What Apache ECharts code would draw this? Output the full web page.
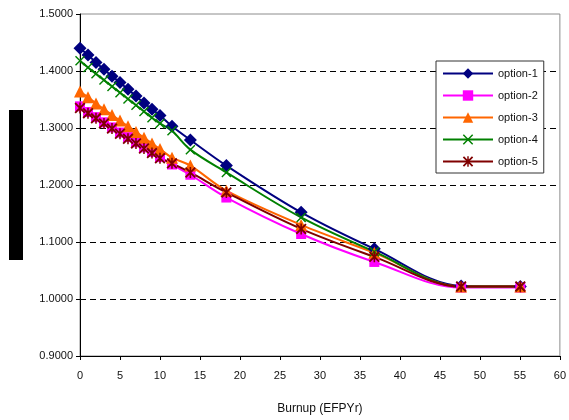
<!DOCTYPE html>
<html>
<head>
<meta charset="utf-8">
<script src="https://cdn.jsdelivr.net/npm/echarts@6/dist/echarts.min.js"></script>
<style>
  html, body { margin: 0; padding: 0; background: #fff; }
  #main { width: 569px; height: 420px; }
</style>
</head>
<body>
<div id="main"></div>
<script type="text/javascript">
// burnup points (EFPYr)
var burnup = [0, 1, 2, 3, 4, 5, 6, 7, 8, 9, 10, 11.5, 13.8, 18.3, 27.65, 36.8, 47.65, 55.05];
var option1 = [1.440, 1.428, 1.415, 1.403, 1.391, 1.380, 1.368, 1.356, 1.344, 1.333, 1.322, 1.303, 1.279, 1.234, 1.152, 1.088, 1.023, 1.022];
var option2 = [1.338, 1.328, 1.319, 1.310, 1.301, 1.292, 1.284, 1.275, 1.266, 1.258, 1.249, 1.236, 1.218, 1.178, 1.114, 1.065, 1.020, 1.020];
var option3 = [1.364, 1.354, 1.343, 1.333, 1.323, 1.313, 1.303, 1.293, 1.283, 1.273, 1.263, 1.248, 1.234, 1.190, 1.130, 1.081, 1.022, 1.022];
var option4 = [1.418, 1.406, 1.395, 1.384, 1.373, 1.362, 1.351, 1.340, 1.329, 1.318, 1.308, 1.295, 1.262, 1.222, 1.143, 1.083, 1.022, 1.022];
var option5 = [1.335, 1.326, 1.317, 1.308, 1.299, 1.290, 1.281, 1.273, 1.264, 1.256, 1.247, 1.238, 1.222, 1.187, 1.123, 1.074, 1.022, 1.022];
var names = ['option-1', 'option-2', 'option-3', 'option-4', 'option-5'];

function pairs(ys) {
  var out = [];
  for (var i = 0; i < burnup.length; i++) out.push([burnup[i], ys[i]]);
  return out;
}

// x and asterisk shapes as filled polygons
var xMark = 'path://M0,1L1,0L10,9L9,10Z M9,0L10,1L1,10L0,9Z';
var starMark = 'path://M0,1.2L1.2,0L10,8.8L8.8,10Z M8.8,0L10,1.2L1.2,10L0,8.8Z M4.3,0L5.7,0L5.7,10L4.3,10Z';

function mkSeries(name, ys, color, symbol, size) {
  return {
    name: name,
    type: 'line',
    data: pairs(ys),
    smooth: 0.35,
    symbol: symbol,
    symbolSize: size,
    showAllSymbol: true,
    lineStyle: { color: color, width: 2 },
    itemStyle: { color: color, borderWidth: 0 },
    emphasis: { disabled: true }
  };
}

var myChart = echarts.init(document.getElementById('main'));
var option = {
  animation: false,
  textStyle: { fontFamily: 'Liberation Sans, Arial, sans-serif' },
  grid: {
    left: 80, right: 3, top: 14, bottom: 60,
    show: true, borderColor: '#8c8c8c', borderWidth: 1, backgroundColor: 'transparent'
  },
  legend: {
    orient: 'vertical',
    left: 436, top: 61,
    padding: [7, 6, 6, 6],
    itemWidth: 50, itemHeight: 13, itemGap: 11,
    backgroundColor: '#fff',
    borderColor: '#333', borderWidth: 1,
    textStyle: { fontSize: 11, color: '#111' },
    data: names
  },
  xAxis: {
    type: 'value',
    min: 0, max: 60, interval: 5,
    name: 'Burnup (EFPYr)',
    nameLocation: 'middle',
    nameGap: 47,
    nameTextStyle: { fontSize: 12, color: '#111' },
    axisLine: { lineStyle: { color: '#000', width: 1 } },
    axisTick: { show: true, inside: false, length: 4, lineStyle: { color: '#000' } },
    axisLabel: { fontSize: 11, color: '#111', margin: 14 },
    splitLine: { show: false }
  },
  yAxis: {
    type: 'value',
    min: 0.9, max: 1.5, interval: 0.1,
    axisLine: { show: true, lineStyle: { color: '#000', width: 1 } },
    axisTick: { show: true, inside: false, length: 4, lineStyle: { color: '#000' } },
    axisLabel: {
      fontSize: 11, color: '#111', margin: 7,
      formatter: function (v) { return v.toFixed(4); }
    },
    splitLine: {
      show: true, showMinLine: false, showMaxLine: false,
      lineStyle: { color: '#000', width: 1, type: [6, 4] }
    }
  },
  graphic: [
    { type: 'rect', left: 9, top: 110, shape: { width: 14, height: 150 }, style: { fill: '#000' } }
  ],
  series: [
    mkSeries(names[0], option1, '#000080', 'diamond', 13),
    mkSeries(names[1], option2, '#ff00ff', 'rect', 10),
    mkSeries(names[2], option3, '#ff6600', 'triangle', 12),
    mkSeries(names[3], option4, '#008000', xMark, 10),
    mkSeries(names[4], option5, '#800000', starMark, 11)
  ]
};
myChart.setOption(option);
</script>
</body>
</html>
